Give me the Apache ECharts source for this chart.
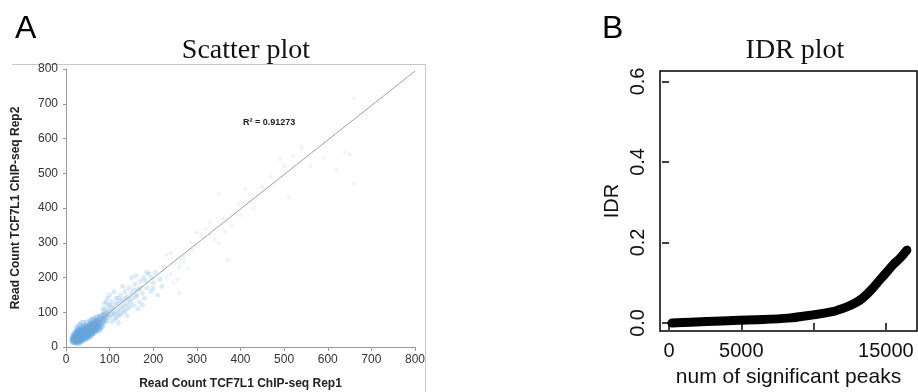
<!DOCTYPE html>
<html>
<head>
<meta charset="utf-8">
<script src="https://cdn.jsdelivr.net/npm/echarts@6/dist/echarts.min.js"></script>
<style>
  html, body { margin: 0; padding: 0; background: #fff; }
  #chart { width: 918px; height: 392px; }
</style>
</head>
<body>
<div id="chart"></div>
<script>
// Panel A: read counts [rep1, rep2]
// dense cloud near the origin
const denseCounts = [
  [18,20],[20,25],[22,18],[24,30],[25,22],[26,35],[28,26],[30,40],[30,20],[32,33],
  [33,28],[35,45],[35,25],[36,38],[38,30],[40,50],[40,35],[41,28],[42,42],[44,36],
  [45,55],[45,30],[46,48],[48,40],[50,60],[50,38],[52,45],[54,52],[55,35],[56,65],
  [58,48],[60,55],[60,42],[62,70],[64,50],[65,60],[66,45],[68,75],[70,58],[72,65],
  [20,32],[22,40],[24,16],[27,45],[29,15],[31,50],[34,18],[37,55],[39,22],[43,60],
  [47,25],[49,70],[53,30],[57,75],[59,38],[63,80],[67,52],[71,85],[74,62],[76,50],
  [15,22],[17,28],[19,35],[21,14],[23,24],[25,42],[27,32],[29,48],[31,27],[33,38],
  [35,32],[37,44],[39,36],[41,46],[43,40],[45,48],[47,42],[49,52],[51,48],[53,58],
  [55,50],[57,56],[59,62],[61,58],[63,65],[65,68],[67,62],[69,70],[73,72],[75,78],
  [26,55],[32,62],[38,68],[28,12],[36,20],[44,26],[52,34],[60,40],[68,48],[76,55],
  [16,16],[18,24],[19,18],[21,20],[21,28],[23,20],[23,34],[24,26],[25,18],[26,28],
  [27,22],[27,38],[28,30],[29,24],[30,34],[31,22],[32,28],[33,44],[34,24],[34,36],
  [36,30],[37,26],[38,40],[39,46],[40,30],[42,34],[42,52],[44,44],[46,38],[48,34],
  [48,56],[50,44],[52,40],[54,46],[56,42],[58,54],[60,64],[62,48],[64,58],[66,54],
  [70,64],[72,55],[78,68],[80,60],[82,80],[84,72],[86,90],[78,85],[90,78],[92,95]
];
// moderate cloud along the diagonal, roughly 80 to 230
const midCounts = [
  [80,90],[82,70],[85,100],[88,80],[90,110],[92,75],[95,95],[98,120],[100,85],[102,105],
  [105,130],[108,95],[110,115],[112,80],[115,140],[118,105],[120,125],[122,90],[125,150],[128,115],
  [130,135],[132,100],[135,160],[138,125],[140,145],[142,110],[145,170],[148,130],[150,155],[155,120],
  [158,180],[160,145],[165,165],[168,130],[170,190],[175,155],[178,200],[180,140],[185,170],[190,210],
  [195,160],[200,185],[205,215],[210,150],[215,195],[220,175],[225,230],[85,60],[95,140],[110,160],
  [120,70],[140,90],[150,200],[165,110],[175,120],[130,175],[160,205],[185,215],[200,170],
  [84,110],[88,95],[94,88],[96,105],[100,120],[104,92],[106,112],[110,100],[114,125],[116,95],
  [120,140],[124,108],[126,132],[134,118],[136,140],[144,135],[146,118],[152,140],[156,165],[162,150],
  [88,125],[92,130],[100,150],[105,72],[115,85],[125,95],[135,105],[170,170],[182,190],[196,200]
];
// sparse points further out
const farCounts = [
  [230,200],[240,210],[250,240],[260,230],[270,260],[280,225],[290,280],[240,270],[255,195],[270,245],
  [300,290],[310,320],[230,265],[320,340],[340,310],[350,300],[360,370],[370,250],[380,350],[395,410],
  [400,380],[410,455],[420,440],[430,400],[450,460],[470,490],[500,520],[510,430],[520,550],[540,575],
  [560,520],[590,545],[620,510],[640,560],[650,555],[660,470],[660,715],[490,540],[260,155],[350,440],
  [300,330],[245,185],[285,300],[330,360],[365,330]
];
const trendLine = [[11, 11], [800, 794]];

// Panel B: IDR vs number of significant peaks
const idrPeaks = [200, 1500, 3670, 6000, 8230, 9950, 11300, 12300, 13000, 13400, 14000, 14580, 15000, 15480, 16000, 16450];
const idrValues = [0, 0.002, 0.005, 0.008, 0.012, 0.02, 0.028, 0.04, 0.052, 0.062, 0.083, 0.107, 0.124, 0.144, 0.162, 0.181];
const idrYTicks = [0, 0.2, 0.4, 0.6];
const idrXTicks = [0, 5000, 10000, 15000];
const idrXLabels = [0, 5000, 15000];

const chart = echarts.init(document.getElementById('chart'));

const sans = '"Liberation Sans", Arial, Helvetica, sans-serif';
const serif = '"Liberation Serif", "Times New Roman", serif';

const option = {
  animation: false,
  backgroundColor: '#fff',
  title: [
    { text: 'A', left: 10, top: 8, textStyle: { fontFamily: sans, fontSize: 32, fontWeight: 'normal', color: '#000' } },
    { text: 'B', left: 597, top: 8, textStyle: { fontFamily: sans, fontSize: 32, fontWeight: 'normal', color: '#000' } },
    { text: 'Scatter plot', left: 241, top: 32, textAlign: 'center', textStyle: { fontFamily: serif, fontSize: 28, fontWeight: 'normal', color: '#111' } },
    { text: 'IDR plot', left: 790, top: 32, textAlign: 'center', textStyle: { fontFamily: serif, fontSize: 28, fontWeight: 'normal', color: '#111' } }
  ],
  graphic: [
    {
      type: 'polyline',
      shape: { points: [[12, 64.5], [425.5, 64.5], [425.5, 392]] },
      style: { stroke: '#c8c8c8', lineWidth: 1, fill: null }
    },
    {
      type: 'text',
      left: 243, top: 118,
      style: { text: 'R² = 0.91273', font: 'bold 9px ' + sans, fill: '#222' }
    }
  ],
  grid: [
    { left: 66, top: 69, width: 349, height: 278, outerBoundsMode: 'none' },
    {
      left: 660, top: 71, width: 257, height: 260, outerBoundsMode: 'none',
      show: true, borderColor: '#000', borderWidth: 1.5, backgroundColor: 'transparent'
    }
  ],
  xAxis: [
    {
      gridIndex: 0, type: 'value', min: 0, max: 800, interval: 100,
      name: 'Read Count TCF7L1 ChIP-seq Rep1', nameLocation: 'middle', nameGap: 31,
      nameTextStyle: { fontFamily: sans, fontSize: 12, fontWeight: 'bold', color: '#222' },
      axisLine: { lineStyle: { color: '#999', width: 1 } },
      axisTick: { show: true, length: 4, lineStyle: { color: '#999' } },
      axisLabel: { fontFamily: sans, fontSize: 12, color: '#333', margin: 7 },
      splitLine: { show: false }
    },
    {
      gridIndex: 1, type: 'value', min: -622, max: 17150,
      name: 'num of significant peaks', nameLocation: 'middle', nameGap: 36,
      nameTextStyle: { fontFamily: sans, fontSize: 21, color: '#111' },
      axisLine: { show: false },
      axisTick: { show: true, length: 7, customValues: idrXTicks, lineStyle: { color: '#000', width: 1.5 } },
      axisLabel: {
        fontFamily: sans, fontSize: 20, color: '#111', margin: 10,
        customValues: idrXLabels, formatter: v => String(v)
      },
      splitLine: { show: false }
    }
  ],
  yAxis: [
    {
      gridIndex: 0, type: 'value', min: 0, max: 800, interval: 100,
      name: 'Read Count TCF7L1 ChIP-seq Rep2', nameLocation: 'middle', nameGap: 44,
      nameTextStyle: { fontFamily: sans, fontSize: 12, fontWeight: 'bold', color: '#222' },
      axisLine: { show: true, lineStyle: { color: '#999', width: 1 } },
      axisTick: { show: true, length: 3, lineStyle: { color: '#999' } },
      axisLabel: { fontFamily: sans, fontSize: 12, color: '#333', margin: 8 },
      splitLine: { show: false }
    },
    {
      gridIndex: 1, type: 'value', min: -0.02, max: 0.626,
      name: 'IDR', nameLocation: 'middle', nameGap: 38,
      nameTextStyle: { fontFamily: sans, fontSize: 20, color: '#111' },
      axisLine: { show: false },
      axisTick: { show: true, length: 7, customValues: idrYTicks, lineStyle: { color: '#000', width: 1.5 } },
      axisLabel: {
        fontFamily: sans, fontSize: 20, color: '#111', rotate: 90, margin: 12,
        customValues: idrYTicks, formatter: v => v.toFixed(1)
      },
      splitLine: { show: false }
    }
  ],
  series: [
    {
      type: 'scatter', xAxisIndex: 0, yAxisIndex: 0,
      data: denseCounts, symbolSize: 7,
      itemStyle: { color: 'rgba(98,166,224,0.42)' }
    },
    {
      type: 'scatter', xAxisIndex: 0, yAxisIndex: 0,
      data: midCounts, symbolSize: 5,
      itemStyle: { color: 'rgba(110,172,226,0.3)' }
    },
    {
      type: 'scatter', xAxisIndex: 0, yAxisIndex: 0,
      data: farCounts, symbolSize: 4,
      itemStyle: { color: 'rgba(130,182,230,0.18)' }
    },
    {
      type: 'line', xAxisIndex: 0, yAxisIndex: 0,
      data: trendLine, symbol: 'none',
      lineStyle: { color: '#a0a0a0', width: 1 }
    },
    {
      type: 'line', xAxisIndex: 1, yAxisIndex: 1,
      data: idrPeaks.map((p, i) => [p, idrValues[i]]),
      symbol: 'none', smooth: 0.3,
      lineStyle: { color: '#000', width: 9, cap: 'round', join: 'round' }
    }
  ]
};

chart.setOption(option);
</script>
</body>
</html>
